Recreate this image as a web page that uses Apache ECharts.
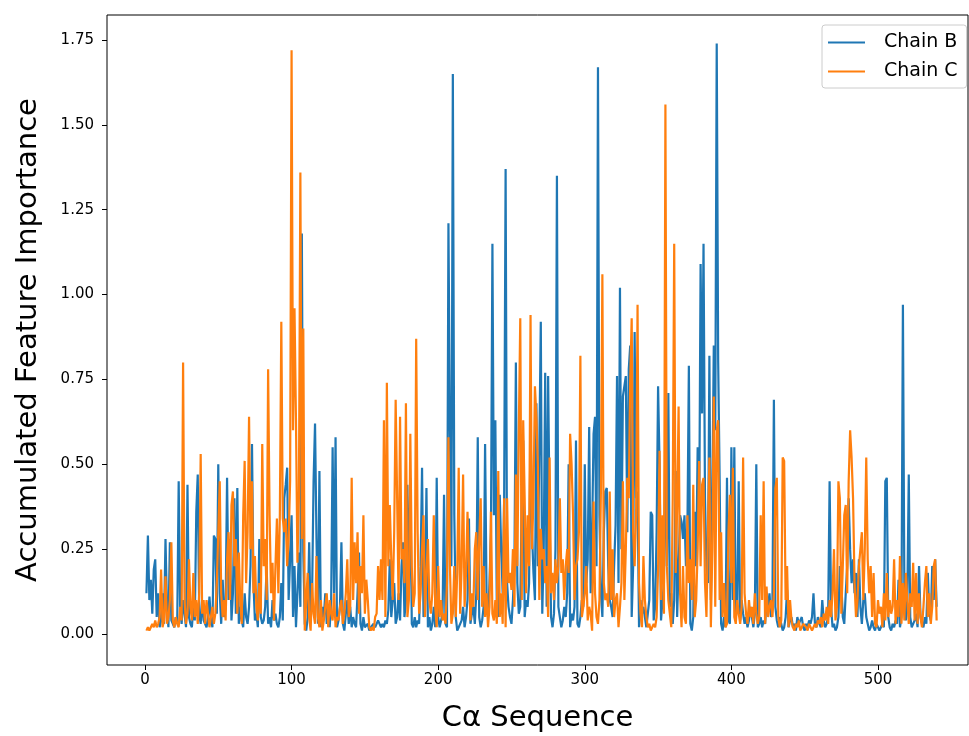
<!DOCTYPE html>
<html>
<head>
<meta charset="utf-8">
<script src="https://cdn.jsdelivr.net/npm/echarts@6/dist/echarts.min.js"></script>
<style>
  html, body { margin: 0; padding: 0; background: #fff; }
  #chart { width: 969px; height: 736px; }
</style>
</head>
<body>
<div id="chart"></div>
<script>
// accumulated feature importance per residue, position 1..540
const chainB = [
  0.12, 0.29, 0.10, 0.16, 0.06, 0.19, 0.22, 0.05, 0.12, 0.02,
  0.04, 0.12, 0.03, 0.28, 0.08, 0.02, 0.27, 0.04, 0.03, 0.02,
  0.05, 0.03, 0.45, 0.08, 0.03, 0.10, 0.06, 0.02, 0.44, 0.05,
  0.03, 0.02, 0.08, 0.04, 0.36, 0.47, 0.06, 0.03, 0.10, 0.04,
  0.03, 0.02, 0.05, 0.11, 0.04, 0.02, 0.29, 0.28, 0.06, 0.50,
  0.12, 0.03, 0.16, 0.05, 0.08, 0.46, 0.10, 0.28, 0.04, 0.12,
  0.40, 0.06, 0.43, 0.03, 0.08, 0.04, 0.02, 0.12, 0.05, 0.03,
  0.08, 0.20, 0.56, 0.15, 0.04, 0.06, 0.02, 0.28, 0.05, 0.03,
  0.04, 0.08, 0.20, 0.03, 0.05, 0.02, 0.10, 0.04, 0.06, 0.03,
  0.02, 0.05, 0.15, 0.04, 0.40, 0.44, 0.49, 0.10, 0.22, 0.35,
  0.05, 0.20, 0.02, 0.12, 0.24, 0.08, 1.18, 0.24, 0.03, 0.01,
  0.05, 0.27, 0.04, 0.12, 0.45, 0.62, 0.28, 0.03, 0.48, 0.02,
  0.08, 0.05, 0.12, 0.03, 0.06, 0.02, 0.10, 0.55, 0.12, 0.58,
  0.02, 0.04, 0.08, 0.27, 0.03, 0.01, 0.06, 0.10, 0.03, 0.08,
  0.02, 0.05, 0.03, 0.02, 0.12, 0.24, 0.03, 0.01, 0.05, 0.02,
  0.02, 0.03, 0.01, 0.02, 0.02, 0.03, 0.02, 0.02, 0.04, 0.03,
  0.02, 0.03, 0.02, 0.04, 0.03, 0.07, 0.22, 0.05, 0.10, 0.15,
  0.03, 0.05, 0.12, 0.04, 0.20, 0.27, 0.05, 0.10, 0.44, 0.12,
  0.46, 0.03, 0.02, 0.05, 0.02, 0.04, 0.03, 0.20, 0.49, 0.05,
  0.10, 0.43, 0.02, 0.05, 0.01, 0.03, 0.08, 0.02, 0.46, 0.05,
  0.02, 0.04, 0.06, 0.41, 0.03, 0.02, 1.21, 0.60, 0.20, 1.65,
  0.35, 0.05, 0.01, 0.02, 0.03, 0.04, 0.08, 0.02, 0.05, 0.10,
  0.34, 0.03, 0.06, 0.08, 0.03, 0.12, 0.58, 0.05, 0.02, 0.04,
  0.08, 0.56, 0.12, 0.05, 0.15, 0.30, 1.15, 0.35, 0.63, 0.08,
  0.05, 0.41, 0.25, 0.12, 0.40, 1.37, 0.15, 0.08, 0.05, 0.03,
  0.10, 0.20, 0.80, 0.15, 0.06, 0.08, 0.40, 0.57, 0.05, 0.10,
  0.08, 0.15, 0.62, 0.30, 0.18, 0.10, 0.68, 0.20, 0.55, 0.92,
  0.06, 0.25, 0.77, 0.08, 0.76, 0.35, 0.05, 0.02, 0.06, 0.25,
  1.35, 0.08, 0.05, 0.02, 0.04, 0.08, 0.05, 0.12, 0.50, 0.02,
  0.06, 0.04, 0.08, 0.57, 0.03, 0.02, 0.05, 0.10, 0.08, 0.50,
  0.15, 0.22, 0.61, 0.12, 0.30, 0.59, 0.64, 0.20, 1.67, 0.35,
  0.12, 0.05, 0.30, 0.42, 0.43, 0.20, 0.10, 0.08, 0.05, 0.20,
  0.32, 0.76, 0.15, 1.02, 0.25, 0.70, 0.73, 0.76, 0.30, 0.78,
  0.85, 0.05, 0.20, 0.89, 0.40, 0.42, 0.02, 0.10, 0.06, 0.08,
  0.05, 0.02, 0.06, 0.10, 0.36, 0.35, 0.04, 0.08, 0.30, 0.73,
  0.50, 0.04, 0.10, 0.15, 0.60, 0.20, 0.71, 0.08, 0.12, 0.03,
  0.10, 0.48, 0.05, 0.20, 0.35, 0.33, 0.28, 0.35, 0.20, 0.30,
  0.79, 0.03, 0.01, 0.05, 0.36, 0.20, 0.55, 0.30, 1.09, 0.65,
  1.15, 0.40, 0.20, 0.15, 0.82, 0.10, 0.40, 0.85, 0.60, 1.74,
  0.80, 0.45, 0.03, 0.01, 0.05, 0.02, 0.46, 0.04, 0.03, 0.55,
  0.10, 0.55, 0.05, 0.08, 0.45, 0.04, 0.10, 0.06, 0.03, 0.05,
  0.02, 0.04, 0.08, 0.05, 0.02, 0.06, 0.50, 0.02, 0.03, 0.05,
  0.02, 0.04, 0.03, 0.10, 0.08, 0.12, 0.05, 0.10, 0.69, 0.08,
  0.04, 0.02, 0.05, 0.03, 0.01, 0.02, 0.05, 0.13, 0.02, 0.04,
  0.05, 0.02, 0.03, 0.01, 0.05, 0.03, 0.04, 0.05, 0.02, 0.01,
  0.03, 0.02, 0.04, 0.03, 0.05, 0.12, 0.03, 0.02, 0.05, 0.03,
  0.02, 0.10, 0.04, 0.02, 0.03, 0.05, 0.45, 0.08, 0.02, 0.03,
  0.01, 0.02, 0.05, 0.20, 0.15, 0.05, 0.03, 0.12, 0.20, 0.40,
  0.25, 0.15, 0.22, 0.12, 0.18, 0.05, 0.22, 0.08, 0.03, 0.10,
  0.12, 0.05, 0.03, 0.01, 0.02, 0.04, 0.02, 0.01, 0.03, 0.02,
  0.01, 0.02, 0.03, 0.02, 0.45, 0.46, 0.05, 0.02, 0.01, 0.03,
  0.02, 0.04, 0.03, 0.16, 0.02, 0.05, 0.97, 0.12, 0.04, 0.10,
  0.47, 0.05, 0.02, 0.03, 0.04, 0.06, 0.02, 0.20, 0.05, 0.03,
  0.02, 0.05, 0.03, 0.18, 0.06, 0.04, 0.20, 0.10, 0.22, 0.08
];

const chainC = [
  0.01, 0.02, 0.01, 0.02, 0.03, 0.02, 0.04, 0.02, 0.03, 0.05,
  0.19, 0.02, 0.04, 0.17, 0.03, 0.05, 0.10, 0.27, 0.04, 0.02,
  0.05, 0.03, 0.02, 0.08, 0.04, 0.80, 0.10, 0.03, 0.06, 0.22,
  0.08, 0.04, 0.18, 0.05, 0.10, 0.03, 0.12, 0.53, 0.06, 0.10,
  0.03, 0.10, 0.06, 0.02, 0.05, 0.08, 0.03, 0.06, 0.15, 0.30,
  0.45, 0.12, 0.05, 0.10, 0.04, 0.22, 0.30, 0.10, 0.38, 0.42,
  0.20, 0.28, 0.06, 0.24, 0.10, 0.03, 0.35, 0.51, 0.15, 0.30,
  0.64, 0.25, 0.45, 0.12, 0.23, 0.08, 0.04, 0.15, 0.06, 0.56,
  0.20, 0.28, 0.10, 0.78, 0.35, 0.12, 0.21, 0.04, 0.20, 0.34,
  0.12, 0.35, 0.92, 0.34, 0.30, 0.34, 0.20, 0.28, 0.45, 1.72,
  0.60, 0.96, 0.63, 0.21, 0.40, 1.36, 0.28, 0.90, 0.01, 0.10,
  0.18, 0.05, 0.01, 0.15, 0.06, 0.03, 0.23, 0.05, 0.02, 0.10,
  0.01, 0.04, 0.08, 0.12, 0.02, 0.10, 0.06, 0.04, 0.12, 0.02,
  0.05, 0.04, 0.08, 0.10, 0.03, 0.06, 0.12, 0.22, 0.05, 0.08,
  0.46, 0.10, 0.27, 0.15, 0.30, 0.06, 0.20, 0.12, 0.35, 0.06,
  0.16, 0.10, 0.02, 0.01, 0.02, 0.01, 0.05, 0.06, 0.20, 0.10,
  0.22, 0.10, 0.63, 0.05, 0.74, 0.20, 0.38, 0.22, 0.10, 0.30,
  0.69, 0.40, 0.10, 0.64, 0.22, 0.25, 0.15, 0.68, 0.05, 0.10,
  0.59, 0.20, 0.08, 0.12, 0.87, 0.30, 0.06, 0.12, 0.25, 0.35,
  0.05, 0.18, 0.28, 0.10, 0.06, 0.12, 0.35, 0.08, 0.02, 0.20,
  0.05, 0.10, 0.04, 0.06, 0.03, 0.15, 0.58, 0.20, 0.03, 0.06,
  0.20, 0.05, 0.18, 0.49, 0.06, 0.20, 0.47, 0.08, 0.18, 0.36,
  0.20, 0.04, 0.12, 0.08, 0.25, 0.30, 0.10, 0.28, 0.40, 0.08,
  0.20, 0.05, 0.12, 0.02, 0.08, 0.36, 0.06, 0.04, 0.10, 0.03,
  0.48, 0.05, 0.12, 0.03, 0.40, 0.02, 0.40, 0.15, 0.18, 0.13,
  0.25, 0.08, 0.47, 0.20, 0.60, 0.93, 0.10, 0.63, 0.40, 0.12,
  0.35, 0.20, 0.94, 0.25, 0.40, 0.73, 0.64, 0.50, 0.10, 0.31,
  0.22, 0.25, 0.15, 0.20, 0.05, 0.52, 0.12, 0.18, 0.10, 0.22,
  0.15, 0.20, 0.40, 0.18, 0.22, 0.10, 0.20, 0.25, 0.18, 0.59,
  0.50, 0.35, 0.10, 0.20, 0.22, 0.30, 0.82, 0.05, 0.08, 0.12,
  0.20, 0.04, 0.08, 0.06, 0.01, 0.39, 0.12, 0.05, 0.03, 0.10,
  0.42, 1.06, 0.15, 0.10, 0.12, 0.08, 0.42, 0.10, 0.25, 0.05,
  0.10, 0.12, 0.02, 0.08, 0.15, 0.45, 0.10, 0.25, 0.46, 0.40,
  0.75, 0.93, 0.30, 0.20, 0.35, 0.97, 0.15, 0.06, 0.02, 0.23,
  0.10, 0.05, 0.02, 0.03, 0.01, 0.02, 0.03, 0.02, 0.05, 0.19,
  0.54, 0.10, 0.35, 0.06, 1.56, 0.20, 0.10, 0.06, 0.02, 0.40,
  1.15, 0.18, 0.37, 0.67, 0.12, 0.02, 0.20, 0.05, 0.03, 0.35,
  0.15, 0.22, 0.10, 0.44, 0.05, 0.10, 0.25, 0.51, 0.20, 0.44,
  0.46, 0.15, 0.05, 0.30, 0.52, 0.02, 0.25, 0.70, 0.08, 0.60,
  0.63, 0.10, 0.30, 0.05, 0.15, 0.02, 0.03, 0.30, 0.41, 0.15,
  0.49, 0.05, 0.03, 0.10, 0.06, 0.03, 0.08, 0.52, 0.12, 0.06,
  0.03, 0.10, 0.05, 0.08, 0.03, 0.12, 0.06, 0.03, 0.05, 0.35,
  0.10, 0.45, 0.03, 0.14, 0.05, 0.08, 0.10, 0.05, 0.12, 0.43,
  0.46, 0.05, 0.02, 0.04, 0.52, 0.51, 0.10, 0.20, 0.02, 0.10,
  0.04, 0.02, 0.01, 0.03, 0.02, 0.04, 0.01, 0.02, 0.03, 0.03,
  0.02, 0.01, 0.03, 0.02, 0.01, 0.02, 0.03, 0.02, 0.04, 0.03,
  0.05, 0.02, 0.06, 0.04, 0.08, 0.03, 0.10, 0.05, 0.12, 0.25,
  0.04, 0.08, 0.45, 0.40, 0.06, 0.20, 0.35, 0.38, 0.12, 0.45,
  0.60, 0.52, 0.40, 0.15, 0.05, 0.10, 0.20, 0.25, 0.30, 0.10,
  0.25, 0.52, 0.22, 0.12, 0.20, 0.05, 0.18, 0.03, 0.02, 0.10,
  0.06, 0.08, 0.02, 0.12, 0.04, 0.18, 0.05, 0.10, 0.06, 0.08,
  0.22, 0.03, 0.10, 0.05, 0.23, 0.03, 0.15, 0.04, 0.18, 0.10,
  0.03, 0.12, 0.08, 0.21, 0.04, 0.18, 0.03, 0.12, 0.05, 0.02,
  0.08, 0.15, 0.20, 0.05, 0.12, 0.03, 0.08, 0.20, 0.22, 0.04
];

const xTicks = [0, 100, 200, 300, 400, 500];
const yTicks = [0, 0.25, 0.5, 0.75, 1.0, 1.25, 1.5, 1.75];

const toPairs = arr => arr.map((v, i) => [i + 1, v]);

const chart = echarts.init(document.getElementById('chart'), null, { renderer: 'canvas' });

const option = {
  animation: false,
  backgroundColor: '#fff',
  textStyle: { fontFamily: 'DejaVu Sans' },
  grid: {
    left: 107, right: 1, top: 15, bottom: 71,
    outerBoundsMode: 'none',
    containLabel: false,
    show: true, borderColor: '#000', borderWidth: 1, backgroundColor: 'transparent'
  },
  legend: {
    orient: 'vertical',
    left: 822, top: 25,
    padding: [8, 9, 7, 6],
    itemGap: 10,
    itemWidth: 37, itemHeight: 2,
    icon: 'rect',
    borderColor: '#ccc', borderWidth: 1, borderRadius: 3,
    textStyle: { fontSize: 19, color: '#000', padding: [0, 0, 0, 14] },
    data: ['Chain B', 'Chain C']
  },
  xAxis: {
    type: 'value',
    min: -25.9, max: 561.4,
    name: 'C\u03b1 Sequence',
    nameLocation: 'middle',
    nameGap: 39,
    nameTextStyle: { fontSize: 29, color: '#000' },
    axisLine: { show: false, onZero: false },
    axisTick: { show: true, length: 5, lineStyle: { color: '#000' }, customValues: xTicks },
    axisLabel: { fontSize: 15, color: '#000', margin: 8, customValues: xTicks },
    splitLine: { show: false }
  },
  yAxis: {
    type: 'value',
    min: -0.0913, max: 1.8237,
    name: 'Accumulated Feature Importance',
    nameLocation: 'middle',
    nameGap: 64,
    nameTextStyle: { fontSize: 29, color: '#000' },
    axisLine: { show: false, onZero: false },
    axisTick: { show: true, length: 5, lineStyle: { color: '#000' }, customValues: yTicks },
    axisLabel: {
      fontSize: 15, color: '#000', margin: 13, customValues: yTicks,
      formatter: v => v.toFixed(2)
    },
    splitLine: { show: false }
  },
  series: [
    {
      name: 'Chain B',
      type: 'line',
      data: toPairs(chainB),
      showSymbol: false,
      symbol: 'none',
      lineStyle: { color: '#1f77b4', width: 2.2 },
      itemStyle: { color: '#1f77b4' },
      z: 2
    },
    {
      name: 'Chain C',
      type: 'line',
      data: toPairs(chainC),
      showSymbol: false,
      symbol: 'none',
      lineStyle: { color: '#ff7f0e', width: 2.2 },
      itemStyle: { color: '#ff7f0e' },
      z: 3
    }
  ]
};

chart.setOption(option);
</script>
</body>
</html>
